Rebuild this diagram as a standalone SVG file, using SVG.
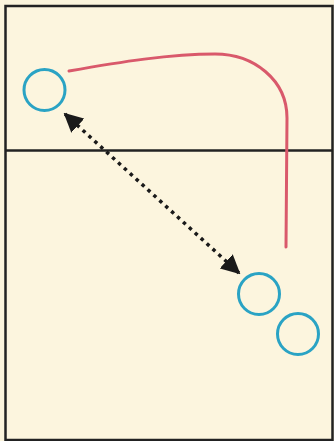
<svg xmlns="http://www.w3.org/2000/svg" width="334" height="441" viewBox="0 0 334 441">
<defs>
<style>
.player{fill:none;stroke:#2aa3c4;stroke-width:3}
.run{fill:none;stroke:#d9596b;stroke-width:3;stroke-linecap:round}
.pass{fill:none;stroke:#1a1a1a;stroke-width:3.5;stroke-dasharray:3.5 4.5}
</style>
<marker id="ah" viewBox="0 0 10 10" refX="9" refY="5" markerWidth="5.5" markerHeight="5.5" orient="auto-start-reverse" markerUnits="strokeWidth">
<path d="M0,0 L10,5 L0,10 Z" fill="#1a1a1a"/>
</marker>
</defs>
<rect x="0" y="0" width="334" height="441" fill="#fbf4dc"/>
<rect x="5.5" y="6" width="327" height="434" fill="#fcf5de" stroke="#222" stroke-width="2.5"/>
<line x1="5.5" y1="150.5" x2="333" y2="150.5" stroke="#222" stroke-width="2.5"/>
<g id="connectors">
<path class="run" d="M69,71 C120,62 170,54 215,54 C254,54 287,80 287,118 L286,247"/>
<line class="pass" x1="65" y1="114" x2="239" y2="273" marker-start="url(#ah)" marker-end="url(#ah)"/>
</g>
<g id="p1"><circle class="player" cx="44.5" cy="90" r="20.5"/></g>
<g id="p2"><circle class="player" cx="259" cy="294" r="20.5"/></g>
<g id="p3"><circle class="player" cx="298" cy="334" r="20.5"/></g>
</svg>
